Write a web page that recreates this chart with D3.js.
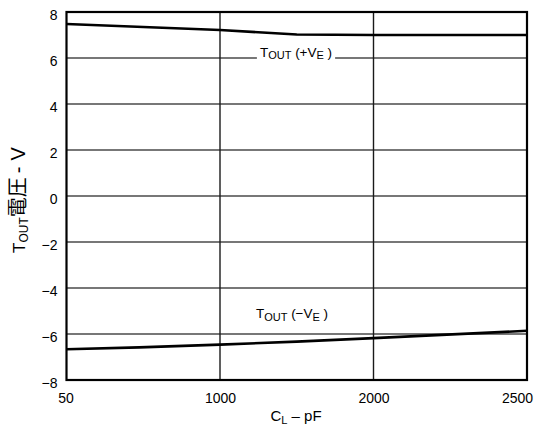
<!DOCTYPE html>
<html><head><meta charset="utf-8">
<script src="https://cdn.jsdelivr.net/npm/d3@7"></script>
<style>body{margin:0;background:#fff}svg text{font-family:"Liberation Sans",Arial,sans-serif}</style>
</head><body><svg id="c" width="537" height="427"></svg>
<script>
const xTicks = [50, 1000, 2000, 2500];
const yTicks = [-8, -6, -4, -2, 0, 2, 4, 6, 8];
const posX = [50, 1000, 1500, 2000, 2500];
const posY = [7.48, 7.22, 7.02, 7.0, 7.0];
const negX = [50, 500, 1000, 1500, 2000, 2500];
const negY = [-6.66, -6.58, -6.46, -6.33, -6.18, -5.86];

const L = 66.5, R = 527, T = 12, B = 380;
const svg = d3.select("#c");
const x = d3.scaleLinear().domain(xTicks).range(xTicks.map((d,i)=>L+(R-L)*i/(xTicks.length-1)));
const y = d3.scaleLinear().domain([-8, 8]).range([B, T]);

// gridlines
svg.append("g").selectAll("line").data(yTicks.slice(1,-1)).join("line")
  .attr("x1", L).attr("x2", R).attr("y1", d=>y(d)).attr("y2", d=>y(d))
  .attr("stroke", "#4a4a4a").attr("stroke-width", 1.7);
svg.append("g").selectAll("line").data(xTicks.slice(1,-1)).join("line")
  .attr("x1", d=>x(d)).attr("x2", d=>x(d)).attr("y1", T).attr("y2", B)
  .attr("stroke", "#1a1a1a").attr("stroke-width", 1.4);

// axes tick labels
const yAxis = d3.axisLeft(y).tickValues(yTicks).tickSize(0).tickPadding(9)
  .tickFormat(d => d < 0 ? "\u2212" + Math.abs(d) : String(d));
const gy = svg.append("g").attr("transform", `translate(${L},0)`).call(yAxis);
gy.select(".domain").remove();
gy.selectAll("text").attr("font-size", 14).attr("fill", "#000").attr("dy", "0.55em");

const xAxis = d3.axisBottom(x).tickValues(xTicks).tickSize(0).tickPadding(13).tickFormat(d => String(d));
const gx = svg.append("g").attr("transform", `translate(0,${B})`).call(xAxis);
gx.select(".domain").remove();
gx.selectAll("text").attr("font-size", 14).attr("fill", "#000")
  .attr("dx", (d,i) => i === 0 ? -1 : (i === xTicks.length-1 ? -10 : 0));

// data lines
const line = d3.line().x(d=>x(d[0])).y(d=>y(d[1]));
svg.append("path").datum(posX.map((v,i)=>[v,posY[i]])).attr("d", line)
  .attr("fill","none").attr("stroke","#000").attr("stroke-width",2.6);
svg.append("path").datum(negX.map((v,i)=>[v,negY[i]])).attr("d", line)
  .attr("fill","none").attr("stroke","#000").attr("stroke-width",2.6);

// frame
svg.append("rect").attr("x", L).attr("y", T).attr("width", R-L).attr("height", B-T)
  .attr("fill","none").attr("stroke","#000").attr("stroke-width",2.2);

// curve labels
function sublabel(cx, cy, sign, bg) {
  const g = svg.append("g");
  const t = g.append("text").attr("x", cx).attr("y", cy).attr("text-anchor","middle")
    .attr("font-size", 13.5).attr("fill","#000");
  t.append("tspan").text("T");
  t.append("tspan").attr("font-size", 11).attr("dy", 2.5).text("OUT");
  t.append("tspan").attr("dy", -2.5).text(" (" + sign + "V");
  t.append("tspan").attr("font-size", 11).attr("dy", 2.5).text("E");
  t.append("tspan").attr("dy", -2.5).text(" )");
  if (bg) {
    const b = t.node().getBBox();
    g.insert("rect", "text").attr("x", b.x-3).attr("y", b.y).attr("width", b.width+6).attr("height", b.height+2)
      .attr("fill","#fff");
  }
}
sublabel(296, 56.5, "+", true);
sublabel(292, 318, "\u2212", false);

// x label
const xl = svg.append("text").attr("x", 296).attr("y", 421).attr("text-anchor","middle")
  .attr("font-size", 15).attr("fill","#000");
xl.append("tspan").text("C");
xl.append("tspan").attr("font-size", 11).attr("dy", 3).text("L");
xl.append("tspan").attr("dy", -3).text(" \u2013 pF");

// y label
const yl = svg.append("text").attr("transform", `translate(25,200) rotate(-90)`)
  .attr("text-anchor","middle").attr("fill","#000").attr("font-size", 20);
yl.append("tspan").attr("font-size", 17).text("T");
yl.append("tspan").attr("font-size", 12).attr("dy", 3).text("OUT");
yl.append("tspan").attr("dy", -3).attr("font-family", "Noto Sans CJK TC").text("電圧");
yl.append("tspan").attr("dx", 4).text("-");
yl.append("tspan").attr("dx", 6).text("V");
</script></body></html>
